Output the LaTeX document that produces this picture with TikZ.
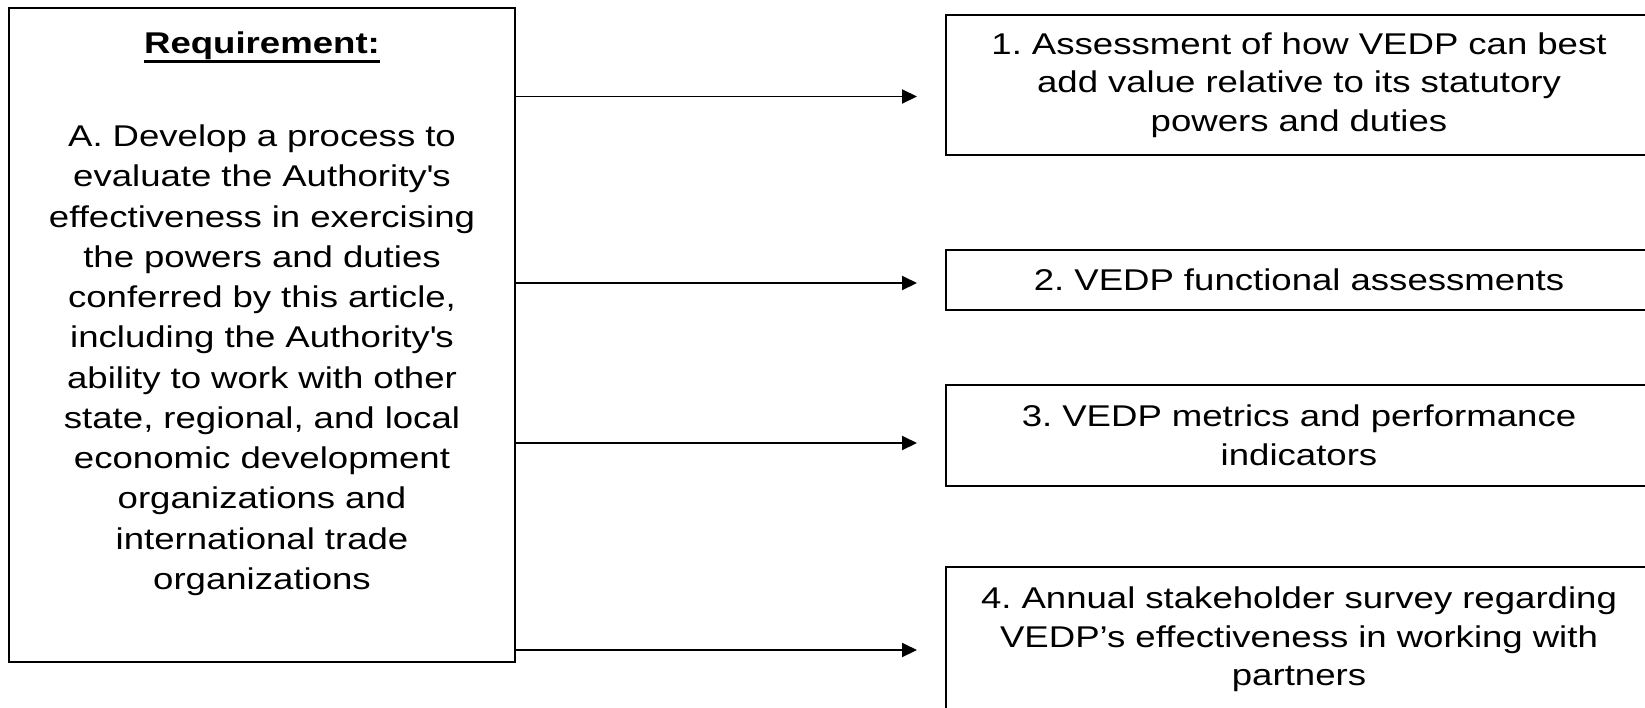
\documentclass[tikz,border=0pt]{standalone}
\usepackage{fontspec}
\setmainfont{Liberation Sans}[FakeStretch=1.22]
\usepackage{tikz}
\usetikzlibrary{arrows.meta,positioning}
\newcommand{\thickul}[1]{{\setbox0\hbox{#1}\rlap{\raisebox{-0.19cm}{\rule{\wd0}{1.6pt}}}\box0}}

\begin{document}
\frenchspacing
\begin{tikzpicture}[x=0.02cm, y=-0.02cm, >={Triangle[length=0.3cm,width=0.28cm]}]
        % Styles
        \tikzstyle{reqbox} = [rectangle, draw, line width=1.2pt, minimum width=10.12cm, minimum height=13.08cm, inner sep=0pt]
        \tikzstyle{reqtext} = [text width=9.7cm, align=center, inner sep=0pt, font=\fontsize{17.07pt}{22.9pt}\selectfont]
        \tikzstyle{outbox} = [rectangle, draw, line width=1.2pt, minimum width=14.12cm, text width=13.6cm, align=center, font=\fontsize{17.07pt}{21.9pt}\selectfont]
        \tikzstyle{line} = [draw, ->, line width=1.1pt]

        \useasboundingbox (0,0) rectangle (1645,707);
        \clip (0,0) rectangle (1645,707);

        % Nodes
        \node [reqbox] (req) at (262,335) {};
        \node [reqtext, anchor=base] (reqtxt) at (262,53) {\thickul{\textbf{Requirement:}}\\[1.07cm]
            A. Develop a process to\\ evaluate the Authority\textquotesingle s\\ effectiveness in exercising\\
            the powers and duties\\ conferred by this article,\\ including the Authority\textquotesingle s\\
            ability to work with other\\ state, regional, and local\\ economic development\\
            organizations and\\ international trade\\ organizations};

        \node [outbox, minimum height=2.8cm] (assess) at (1299,85) {1. Assessment of how VEDP can best\\ add value relative to its statutory\\ powers and duties};
        \node [outbox, minimum height=1.2cm] (funct) at (1299,280) {2. VEDP functional assessments};
        \node [outbox, minimum height=2.02cm] (metrics) at (1299,435.5) {3. VEDP metrics and performance\\ indicators};
        \node [outbox, minimum height=2.9cm] (survey) at (1299,639.5) {4. Annual stakeholder survey regarding\\ VEDP’s effectiveness in working with\\ partners};

        % Edges
        \coordinate (t1) at (917,96.5);
        \coordinate (t2) at (917,283);
        \coordinate (t3) at (917,443);
        \coordinate (t4) at (917,650);
        \path [line] (req.east |- t1) -- (t1);
        \path [line] (req.east |- t2) -- (t2);
        \path [line] (req.east |- t3) -- (t3);
        \path [line] (req.east |- t4) -- (t4);

    \end{tikzpicture}
\end{document}
